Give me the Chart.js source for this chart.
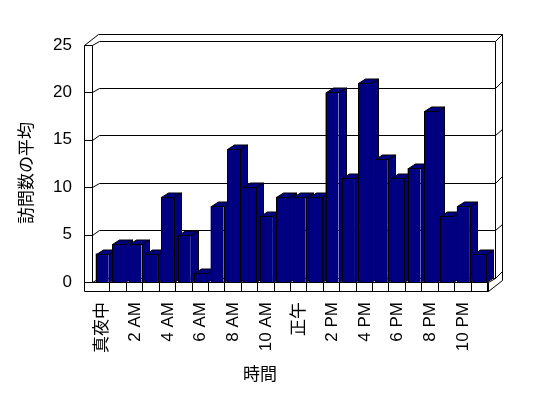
<!DOCTYPE html>
<html>
<head>
<meta charset="utf-8">
<script src="https://cdn.jsdelivr.net/npm/chart.js@4.4.1/dist/chart.umd.min.js"></script>
<style>
  html, body { margin: 0; padding: 0; background: #fff; }
  #wrap { width: 548px; height: 398px; }
</style>
</head>
<body>
<div id="wrap"><canvas id="chartCanvas" width="548" height="398"></canvas></div>
<script>
// 時間ごとの訪問数
const hours = [
    "真夜中", "1 AM", "2 AM", "3 AM", "4 AM", "5 AM", "6 AM", "7 AM",
    "8 AM", "9 AM", "10 AM", "11 AM", "正午", "1 PM", "2 PM", "3 PM",
    "4 PM", "5 PM", "6 PM", "7 PM", "8 PM", "9 PM", "10 PM", "11 PM"
];
const visits = [3, 4, 4, 3, 9, 5, 1, 8, 14, 10, 7, 9, 9, 9, 20, 11, 21, 13, 11, 12, 18, 7, 8, 3];
const yTicks = [0, 5, 10, 15, 20, 25];

const fontFamily = "'Liberation Sans', 'Noto Sans CJK JP', sans-serif";
const navy = "#000080";

// depth of bars / plane, and thickness of the walls
const dx = 7, dy = -4.5, tx = 7, ty = -6.5;

const px = v => Math.round(v) + 0.5;

const box3d = {
    id: "box3d",
    beforeDatasetsDraw(chart) {
        const ctx = chart.ctx;
        const a = chart.chartArea;
        const x = chart.scales.x;
        const y = chart.scales.y;
        const pl = a.left - 2, pr = a.right, top = a.top, fy = a.bottom;
        const ol = pl - 8, fb = fy + 9;

        const line = (x1, y1, x2, y2) => {
            ctx.beginPath();
            ctx.moveTo(px(x1), px(y1));
            ctx.lineTo(px(x2), px(y2));
            ctx.stroke();
        };

        ctx.save();
        ctx.strokeStyle = "#000";
        ctx.lineWidth = 1;

        // walls
        line(ol, top, ol, fb);
        line(pl, top, pl, fy);
        line(ol, top, pl, top);
        line(ol, top, ol + dx + tx, top + dy + ty);
        line(pl, top, pl + dx, top + dy);
        line(ol + dx + tx, top + dy + ty, pr + dx + tx, top + dy + ty);
        line(pl + dx, top + dy, pr + dx, top + dy);
        line(pr + dx, top + dy, pr + dx + tx, top + dy + ty);
        line(pr + dx, top + dy, pr + dx, fy + dy);
        line(pr + dx + tx, top + dy + ty, pr + dx + tx, fb + dy + ty);

        // grid
        yTicks.forEach(v => {
            if (v === yTicks[yTicks.length - 1]) return;
            const yy = y.getPixelForValue(v);
            if (v !== 0) line(ol, yy, pl, yy);
            line(pl, yy, pl + dx, yy + dy);
            line(pl + dx, yy + dy, pr + dx, yy + dy);
            line(pr + dx, yy + dy, pr + dx + tx, yy + dy + ty);
        });

        // floor
        line(ol, fy, pr, fy);
        line(ol, fb, pr, fb);
        line(pr, fy, pr, fb);
        line(pr, fy, pr + dx, fy + dy);
        line(pr, fb, pr + dx + tx, fb + dy + ty);
        const half = (x.getPixelForValue(1) - x.getPixelForValue(0)) / 2;
        hours.forEach((h, i) => {
            const bx = x.getPixelForValue(i) + half - 1;
            line(bx, fy, bx, fb);
        });

        // bar tops and sides
        ctx.fillStyle = navy;
        chart.getDatasetMeta(0).data.forEach(bar => {
            const l = Math.round(bar.x - bar.width / 2) + 0.5;
            const r = Math.round(bar.x + bar.width / 2) + 0.5;
            const t = Math.round(bar.y) + 0.5, b = Math.round(bar.base) + 0.5;
            ctx.beginPath();
            ctx.moveTo(l, t);
            ctx.lineTo(l + dx, t + dy);
            ctx.lineTo(r + dx, t + dy);
            ctx.lineTo(r, t);
            ctx.closePath();
            ctx.fill();
            ctx.stroke();
            ctx.beginPath();
            ctx.moveTo(r, t);
            ctx.lineTo(r + dx, t + dy);
            ctx.lineTo(r + dx, b + dy);
            ctx.lineTo(r, b);
            ctx.closePath();
            ctx.fill();
            ctx.stroke();
        });
        ctx.restore();
    },
    afterDatasetsDraw(chart) {
        // crisp outline on the front faces
        const ctx = chart.ctx;
        ctx.save();
        ctx.strokeStyle = "#000";
        ctx.lineWidth = 1;
        chart.getDatasetMeta(0).data.forEach(bar => {
            const l = Math.round(bar.x - bar.width / 2) + 0.5;
            const r = Math.round(bar.x + bar.width / 2) + 0.5;
            const t = Math.round(bar.y) + 0.5, b = Math.round(bar.base) + 0.5;
            ctx.strokeRect(l, t, r - l, b - t);
        });
        ctx.restore();
    },
    afterDraw(chart) {
        const ctx = chart.ctx;
        ctx.save();
        ctx.fillStyle = "#000";
        ctx.font = "17px " + fontFamily;
        ctx.textAlign = "center";
        ctx.textBaseline = "middle";
        ctx.fillText("時間", 260, 375);
        ctx.translate(27, 173);
        ctx.rotate(-Math.PI / 2);
        ctx.fillText("訪問数の平均", 0, 0);
        ctx.restore();
    }
};

const chartCanvas = document.getElementById("chartCanvas");

const barChart = new Chart(chartCanvas, {
    type: "bar",
    data: {
        labels: hours,
        datasets: [
            {
                label: "訪問数の平均",
                data: visits,
                backgroundColor: navy,
                borderWidth: 0,
                categoryPercentage: 1,
                barPercentage: 0.79
            }
        ]
    },
    options: {
        responsive: false,
        animation: false,
        layout: { padding: { top: 45, right: 60, left: 0, bottom: 0 } },
        plugins: {
            legend: { display: false },
            tooltip: { enabled: false }
        },
        scales: {
            x: {
                grid: { display: false, drawTicks: false },
                border: { display: false },
                afterFit: s => { s.height = 116; },
                ticks: {
                    autoSkip: false,
                    maxRotation: 90,
                    minRotation: 90,
                    padding: 20,
                    color: "#000",
                    font: { size: 17, family: fontFamily },
                    callback: function (v, i) {
                        return i % 2 === 0 ? this.getLabelForValue(v) : "";
                    }
                }
            },
            y: {
                min: 0,
                max: 25,
                grid: { display: false, drawTicks: false },
                border: { display: false },
                afterFit: s => { s.width = 94; },
                ticks: {
                    stepSize: 5,
                    padding: 22,
                    color: "#000",
                    font: { size: 17, family: fontFamily }
                }
            }
        }
    },
    plugins: [box3d]
});
</script>
</body>
</html>
